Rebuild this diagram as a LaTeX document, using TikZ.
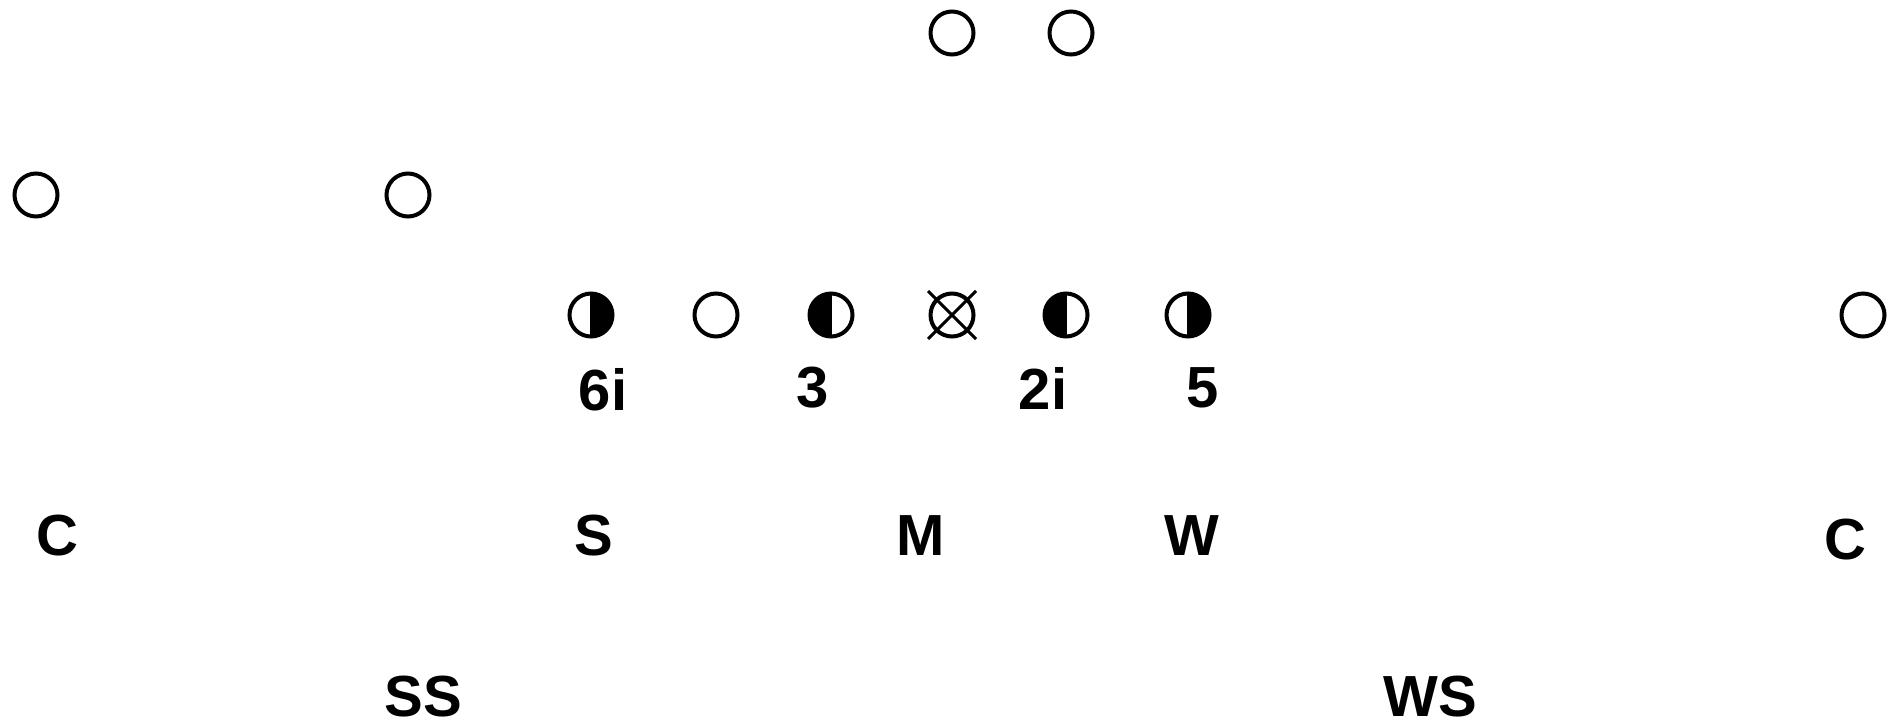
\documentclass[tikz,border=0pt]{standalone}
\usepackage{fontspec}
\setmainfont{Liberation Sans}
\begin{document}
\begin{tikzpicture}[x=1pt,y=-1pt]
\tikzset{
  pl/.style={circle, draw, line width=4pt, minimum size=43pt, inner sep=0pt},
  rhalf/.style={pl, path picture={\fill (path picture bounding box.north) rectangle (path picture bounding box.south east); \draw[line width=2.5pt] (path picture bounding box.north) -- (path picture bounding box.south);}},
  lhalf/.style={pl, path picture={\fill (path picture bounding box.south west) rectangle (path picture bounding box.north); \draw[line width=2.5pt] (path picture bounding box.north) -- (path picture bounding box.south);}},
  lbl/.style={font=\bfseries\fontsize{58}{60}\selectfont, inner sep=0pt}
}
\useasboundingbox (0,0) rectangle (1902,723);
% offense
\node[pl] (qb1) at (952,33) {};
\node[pl] (qb2) at (1071,33) {};
\node[pl] (wl1) at (36,195) {};
\node[pl] (wl2) at (408,195) {};
\node[rhalf] (lt) at (591,315) {};
\node[pl] (lg) at (716,315) {};
\node[lhalf] (rg1) at (831,315) {};
\node[pl] (ctr) at (952,315) {};
\draw[line width=3pt] (ctr.center) ++(-24,24) -- ++(48,-48);
\draw[line width=3pt] (ctr.center) ++(-24,-24) -- ++(48,48);
\node[lhalf] (rg2) at (1066,315) {};
\node[rhalf] (rt) at (1188,315) {};
\node[pl] (wr) at (1863,315) {};
% techniques
\node[lbl] (t6) at (603,390) {6i};
\node[lbl] (t3) at (813,388) {3};
\node[lbl] (t2) at (1043,388) {2i};
\node[lbl] (t5) at (1203,388) {5};
% linebackers and corners
\node[lbl] (c1) at (57,536) {C};
\node[lbl] (s) at (594,536) {S};
\node[lbl] (m) at (921,536) {M};
\node[lbl] (w) at (1192,536) {W};
\node[lbl] (c2) at (1845,540) {C};
% safeties
\node[lbl] (ss) at (423,697) {SS};
\node[lbl] (ws) at (1430,697) {WS};
\end{tikzpicture}
\end{document}
